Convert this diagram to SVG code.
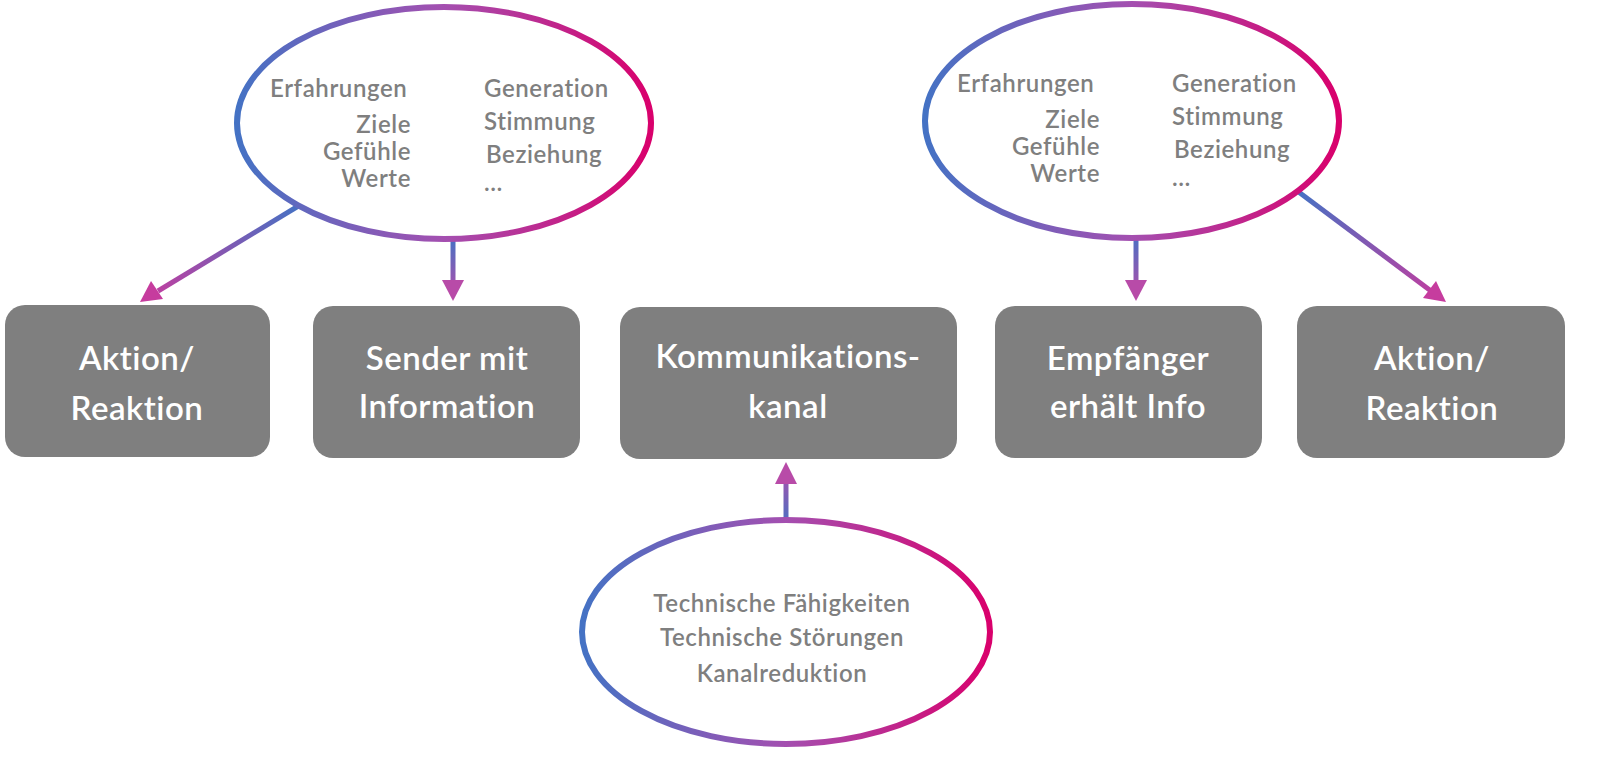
<svg xmlns="http://www.w3.org/2000/svg" width="1600" height="763" viewBox="0 0 1600 763">
<style>
.box{fill:#7f7f7f}
.bt{font-family:Lato,"Open Sans",sans-serif;font-weight:600;font-size:33px;fill:#fff;text-anchor:middle;letter-spacing:0.5px}
.et{font-family:Lato,"Open Sans",sans-serif;font-weight:600;font-size:24px;fill:#7f7f7f;letter-spacing:0.6px}
.r{text-anchor:end}
.m{text-anchor:middle}
.ell{fill:#fff;stroke-width:6}
.con{stroke-width:5;fill:none}
</style>
<defs>
<linearGradient id="eg" x1="0" y1="0" x2="1" y2="0"><stop offset="0" stop-color="#4472C4"/><stop offset="0.5" stop-color="#A44FB0"/><stop offset="1" stop-color="#D9006C"/></linearGradient>
<linearGradient id="c1" gradientUnits="userSpaceOnUse" x1="300" y1="205" x2="143" y2="300"><stop offset="0" stop-color="#4472C4"/><stop offset="1" stop-color="#C63C9E"/></linearGradient>
<linearGradient id="c2" gradientUnits="userSpaceOnUse" x1="453" y1="237" x2="453" y2="300"><stop offset="0" stop-color="#4472C4"/><stop offset="1" stop-color="#B84BA8"/></linearGradient>
<linearGradient id="c3" gradientUnits="userSpaceOnUse" x1="786" y1="527" x2="786" y2="462"><stop offset="0" stop-color="#4472C4"/><stop offset="1" stop-color="#B84BA8"/></linearGradient>
<linearGradient id="c4" gradientUnits="userSpaceOnUse" x1="1136" y1="233" x2="1136" y2="300"><stop offset="0" stop-color="#4472C4"/><stop offset="1" stop-color="#B84BA8"/></linearGradient>
<linearGradient id="c5" gradientUnits="userSpaceOnUse" x1="1296" y1="190" x2="1445" y2="301"><stop offset="0" stop-color="#4472C4"/><stop offset="1" stop-color="#C63C9E"/></linearGradient>
</defs>
<g id="connectors">
<line class="con" stroke="url(#c1)" x1="300" y1="205" x2="158" y2="291"/>
<polygon points="140,302 151,281 163,299" fill="#C63C9E"/>
<line class="con" stroke="url(#c2)" x1="453" y1="237" x2="453" y2="282"/>
<polygon points="442,280 464,280 453,301" fill="#B84BA8"/>
<line class="con" stroke="url(#c3)" x1="786" y1="527" x2="786" y2="482"/>
<polygon points="775,484 797,484 786,462" fill="#B84BA8"/>
<line class="con" stroke="url(#c4)" x1="1136" y1="233" x2="1136" y2="282"/>
<polygon points="1125,280 1147,280 1136,301" fill="#B84BA8"/>
<line class="con" stroke="url(#c5)" x1="1296" y1="190" x2="1431" y2="291"/>
<polygon points="1446,302 1423,298 1436,281" fill="#C63C9E"/>
</g>
<g id="ellipse-sender">
<ellipse class="ell" stroke="url(#eg)" cx="444" cy="123" rx="207" ry="116"/>
<text class="et" x="270" y="97">Erfahrungen</text>
<text class="et r" x="411" y="133">Ziele</text>
<text class="et r" x="411" y="160">Gefühle</text>
<text class="et r" x="411" y="187">Werte</text>
<text class="et" x="484" y="97">Generation</text>
<text class="et" x="484" y="130">Stimmung</text>
<text class="et" x="486" y="163">Beziehung</text>
<text class="et" x="484" y="191">…</text>
</g>
<g id="ellipse-empfaenger">
<ellipse class="ell" stroke="url(#eg)" cx="1132" cy="121" rx="207" ry="117"/>
<text class="et" x="957" y="92">Erfahrungen</text>
<text class="et r" x="1100" y="128">Ziele</text>
<text class="et r" x="1100" y="155">Gefühle</text>
<text class="et r" x="1100" y="182">Werte</text>
<text class="et" x="1172" y="92">Generation</text>
<text class="et" x="1172" y="125">Stimmung</text>
<text class="et" x="1174" y="158">Beziehung</text>
<text class="et" x="1172" y="186">…</text>
</g>
<g id="ellipse-kanal">
<ellipse class="ell" stroke="url(#eg)" cx="786" cy="632" rx="204" ry="112"/>
<text class="et m" x="782" y="612">Technische Fähigkeiten</text>
<text class="et m" x="782" y="646">Technische Störungen</text>
<text class="et m" x="782" y="682">Kanalreduktion</text>
</g>
<g id="box-aktion1"><rect class="box" x="5" y="305" width="265" height="152" rx="20"/><text class="bt" x="137" y="370">Aktion/</text><text class="bt" x="137" y="420">Reaktion</text></g>
<g id="box-sender"><rect class="box" x="313" y="306" width="267" height="152" rx="20"/><text class="bt" x="447" y="370">Sender mit</text><text class="bt" x="447" y="418">Information</text></g>
<g id="box-kanal"><rect class="box" x="620" y="307" width="337" height="152" rx="20"/><text class="bt" x="788" y="368">Kommunikations-</text><text class="bt" x="788" y="418">kanal</text></g>
<g id="box-empfaenger"><rect class="box" x="995" y="306" width="267" height="152" rx="20"/><text class="bt" x="1128" y="370">Empfänger</text><text class="bt" x="1128" y="418">erhält Info</text></g>
<g id="box-aktion2"><rect class="box" x="1297" y="306" width="268" height="152" rx="20"/><text class="bt" x="1432" y="370">Aktion/</text><text class="bt" x="1432" y="420">Reaktion</text></g>
</svg>
